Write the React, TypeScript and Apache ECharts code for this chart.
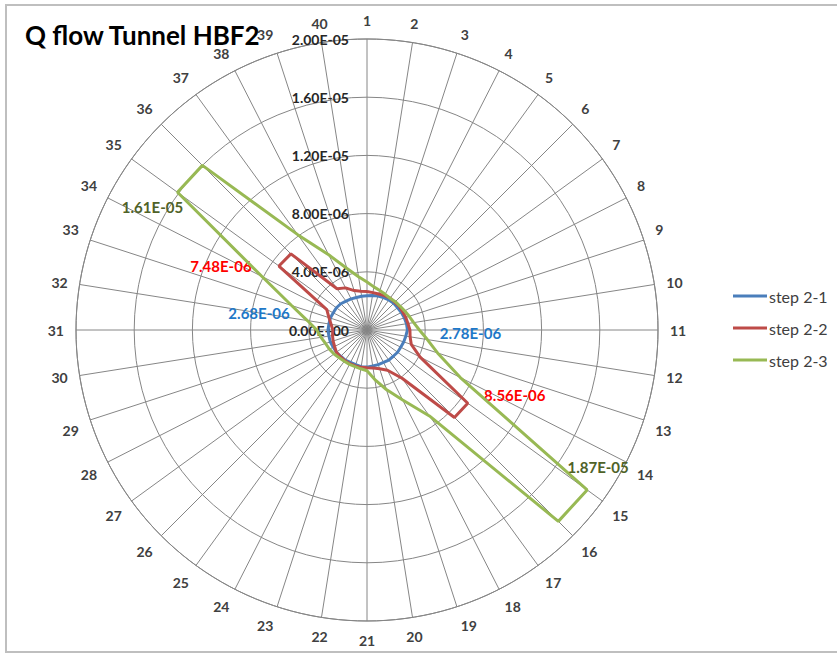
import { useEffect, useRef } from 'react';
import * as echarts from 'echarts';

const categories = [
  '1', '2', '3', '4', '5', '6', '7', '8', '9', '10',
  '11', '12', '13', '14', '15', '16', '17', '18', '19', '20',
  '21', '22', '23', '24', '25', '26', '27', '28', '29', '30',
  '31', '32', '33', '34', '35', '36', '37', '38', '39', '40',
];

const seriesNames = ['step 2-1', 'step 2-2', 'step 2-3'];

const step21 = [
  2.35e-6, 2.4e-6, 2.45e-6, 2.5e-6, 2.55e-6, 2.6e-6, 2.6e-6, 2.65e-6, 2.7e-6, 2.75e-6,
  2.78e-6, 2.7e-6, 2.65e-6, 2.6e-6, 2.6e-6, 2.55e-6, 2.55e-6, 2.5e-6, 2.5e-6, 2.5e-6,
  2.55e-6, 2.55e-6, 2.5e-6, 2.5e-6, 2.55e-6, 2.55e-6, 2.6e-6, 2.6e-6, 2.65e-6, 2.65e-6,
  2.68e-6, 2.65e-6, 2.65e-6, 2.6e-6, 2.6e-6, 2.55e-6, 2.45e-6, 2.4e-6, 2.35e-6, 2.35e-6,
];

const step22 = [
  2.65e-6, 2.6e-6, 2.6e-6, 2.65e-6, 2.7e-6, 2.7e-6, 2.75e-6, 2.75e-6, 2.8e-6, 2.85e-6,
  2.95e-6, 3.0e-6, 3.2e-6, 4.1e-6, 8.56e-6, 8.5e-6, 4.1e-6, 3.1e-6, 2.8e-6, 2.65e-6,
  2.6e-6, 2.6e-6, 2.6e-6, 2.6e-6, 2.6e-6, 2.6e-6, 2.6e-6, 2.5e-6, 2.45e-6, 2.4e-6,
  2.35e-6, 2.5e-6, 2.75e-6, 3.1e-6, 7.48e-6, 7.4e-6, 3.5e-6, 3.25e-6, 2.85e-6, 2.7e-6,
];

const step23 = [
  3.3e-6, 3.0e-6, 2.85e-6, 2.75e-6, 2.7e-6, 2.75e-6, 2.8e-6, 2.9e-6, 3.05e-6, 3.25e-6,
  3.6e-6, 4.2e-6, 5.1e-6, 7.2e-6, 1.87e-5, 1.86e-5, 7.3e-6, 5.4e-6, 4.3e-6, 3.45e-6,
  2.8e-6, 2.7e-6, 2.65e-6, 2.65e-6, 2.65e-6, 2.7e-6, 2.8e-6, 2.9e-6, 3.0e-6, 3.2e-6,
  3.45e-6, 4.15e-6, 5.45e-6, 8.1e-6, 1.61e-5, 1.6e-5, 8.1e-6, 5.8e-6, 4.45e-6, 3.7e-6,
];

const radiusMin = 0;
const radiusMax = 2e-5;
const radiusInterval = 4e-6;

const lineColors = ['#4A7EBB', '#BE4B48', '#98B954'];
const labelColors = ['#1E78C8', '#FF0000', '#4F6228'];

// which points carry a data label, and where the label sits relative to the point
const labelSpecs: { index: number; offset: [number, number] }[][] = [
  [{ index: 10, offset: [63, 3] }, { index: 30, offset: [-69, -17] }],
  [{ index: 14, offset: [47, -8] }, { index: 34, offset: [-58, 0] }],
  [{ index: 14, offset: [11, -23] }, { index: 34, offset: [-25, 15] }],
];

const FONT = 'Lato';

function fmtExp(v: number): string {
  if (v === 0) return '0.00E+00';
  const parts = v.toExponential(2).split('e');
  const n = parseInt(parts[1], 10);
  const sign = n < 0 ? '-' : '+';
  const a = Math.abs(n);
  return parts[0] + 'E' + sign + (a < 10 ? '0' + a : String(a));
}

function buildData(values: number[], si: number) {
  const pts: any[] = values.map((v, i) => {
    const spec = labelSpecs[si].find((s) => s.index === i);
    const item: any = { value: [v, i] };
    if (spec) {
      item.label = {
        show: true,
        position: 'inside',
        offset: spec.offset,
        color: labelColors[si],
        fontFamily: FONT,
        fontWeight: 'bold',
        fontSize: 15,
        formatter: fmtExp(v),
      };
    }
    return item;
  });
  pts.push({ value: [values[0], values.length] });
  return pts;
}

export default function App() {
  const ref = useRef<HTMLDivElement>(null);

  useEffect(() => {
    document.body.style.margin = '0';
    if (!ref.current) return;
    const chart = echarts.init(ref.current, null, { renderer: 'svg' });
    const allValues = [step21, step22, step23];

    chart.setOption({
      animation: false,
      backgroundColor: '#ffffff',
      title: {
        text: 'Q flow Tunnel HBF2',
        left: 20,
        top: 17,
        textStyle: { fontFamily: FONT, fontWeight: 'bold', fontSize: 26, color: '#000000' },
      },
      legend: {
        orient: 'vertical',
        left: 728,
        top: 283,
        itemWidth: 34,
        itemHeight: 3,
        itemGap: 16,
        icon: 'rect',
        data: seriesNames,
        textStyle: { fontFamily: FONT, fontSize: 16, color: '#404040', lineHeight: 16, padding: [0, 0, 0, -3] },
      },
      graphic: [
        {
          type: 'rect',
          shape: { x: 6, y: 5, width: 850, height: 647 },
          style: { fill: 'none', stroke: '#BFBFBF', lineWidth: 2 },
          silent: true,
        },
      ],
      polar: { center: [367, 330], radius: 291 },
      angleAxis: {
        type: 'value',
        min: 0,
        max: categories.length,
        interval: 1,
        startAngle: 90,
        clockwise: true,
        axisLine: { show: true, lineStyle: { color: '#868686', width: 1 } },
        axisTick: { show: false },
        splitLine: { show: true, lineStyle: { color: '#868686', width: 1 } },
        axisLabel: {
          margin: 12,
          fontFamily: FONT,
          fontSize: 14,
          fontWeight: 'bold',
          color: '#404040',
          formatter: (v: number) => (v < categories.length ? categories[v] : ''),
        },
      },
      radiusAxis: {
        type: 'value',
        min: radiusMin,
        max: radiusMax,
        interval: radiusInterval,
        axisLine: { show: false },
        axisTick: { show: false },
        splitLine: { show: true, lineStyle: { color: '#868686', width: 1 } },
        axisLabel: {
          margin: 18,
          fontFamily: FONT,
          fontSize: 14,
          fontWeight: 'bold',
          color: '#262626',
          formatter: (v: number) => fmtExp(v),
        },
      },
      series: seriesNames.map((name, si) => ({
        name,
        type: 'line',
        coordinateSystem: 'polar',
        data: buildData(allValues[si], si),
        symbol: 'circle',
        symbolSize: 1,
        showSymbol: true,
        color: lineColors[si],
        itemStyle: { color: lineColors[si] },
        lineStyle: { color: lineColors[si], width: 3 },
        label: { show: false },
        emphasis: { disabled: true },
        z: 3 + si,
      })),
    });

    return () => chart.dispose();
  }, []);

  return <div ref={ref} style={{ width: 837, height: 654 }} />;
}
